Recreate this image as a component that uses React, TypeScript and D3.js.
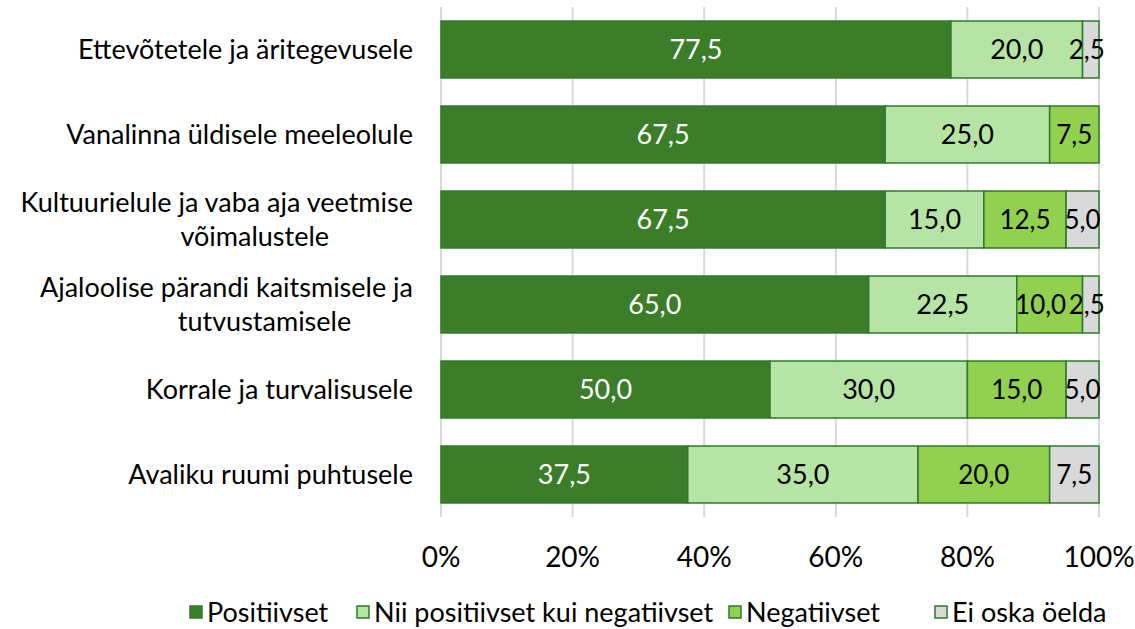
import { useEffect, useRef } from 'react'
import * as d3 from 'd3'

const categories = [
  ['Ettevõtetele ja äritegevusele'],
  ['Vanalinna üldisele meeleolule'],
  ['Kultuurielule ja vaba aja veetmise', 'võimalustele'],
  ['Ajaloolise pärandi kaitsmisele ja', 'tutvustamisele'],
  ['Korrale ja turvalisusele'],
  ['Avaliku ruumi puhtusele'],
]
const seriesNames = ['Positiivset', 'Nii positiivset kui negatiivset', 'Negatiivset', 'Ei oska öelda']
const positiivset = [77.5, 67.5, 67.5, 65.0, 50.0, 37.5]
const mixed = [20.0, 25.0, 15.0, 22.5, 30.0, 35.0]
const negatiivset = [0, 7.5, 12.5, 10.0, 15.0, 20.0]
const eiOska = [2.5, 0, 5.0, 2.5, 5.0, 7.5]
const ticks = [0, 20, 40, 60, 80, 100]

const colors = ['#3b7d28', '#b5e4a5', '#92d050', '#d9d9d9']
const textColors = ['#ffffff', '#000000', '#000000', '#000000']
const FONT = 'Lato, "Open Sans", sans-serif'
const FS = 27

export default function App() {
  const ref = useRef<SVGSVGElement>(null)

  useEffect(() => {
    const svg = d3.select(ref.current)
    svg.selectAll('*').remove()
    const x = d3.scaleLinear().domain([0, 100]).range([441, 1099])
    const y = d3.scaleBand().domain(categories.map((_, i) => String(i))).range([7, 517]).paddingInner(0.33).paddingOuter(0.165)

    const series = [positiivset, mixed, negatiivset, eiOska]
    const rows = categories.map((_, i) => {
      const r: any = { i }
      series.forEach((s, k) => (r[k] = s[i]))
      return r
    })
    const stacked = d3.stack<any>().keys(['0', '1', '2', '3'])(rows)

    // gridlines
    svg
      .append('g')
      .selectAll('line')
      .data(ticks)
      .enter()
      .append('line')
      .attr('x1', d => x(d))
      .attr('x2', d => x(d))
      .attr('y1', 7)
      .attr('y2', 517)
      .attr('stroke', '#d9d9d9')
      .attr('stroke-width', 2)

    // bars
    stacked.forEach((layer, k) => {
      const g = svg.append('g')
      const segs = layer.filter(d => d[1] - d[0] > 0)
      g.selectAll('rect')
        .data(segs)
        .enter()
        .append('rect')
        .attr('x', d => x(d[0]))
        .attr('width', d => x(d[1]) - x(d[0]))
        .attr('y', d => y(String(d.data.i))!)
        .attr('height', y.bandwidth())
        .attr('fill', colors[k])
        .attr('stroke', '#2e7a2a')
        .attr('stroke-width', 1.5)
      // nudge labels apart where a neighbouring segment is very thin
      const nudge = (d: any) => {
        const i = d.data.i
        if (k === 3 && eiOska[i] < 3) return -4
        if (k === 2 && eiOska[i] > 0 && eiOska[i] < 3) return -9
        return 0
      }
      g.selectAll('text')
        .data(segs)
        .enter()
        .append('text')
        .attr('x', d => (x(d[0]) + x(d[1])) / 2 + nudge(d))
        .attr('y', d => y(String(d.data.i))! + y.bandwidth() / 2)
        .attr('dy', '0.36em')
        .attr('text-anchor', 'middle')
        .attr('font-family', FONT)
        .attr('font-size', k > 1 ? 26 : FS)
        .attr('fill', textColors[k])
        .text(d => (d[1] - d[0]).toFixed(1).replace('.', ','))
    })

    // category labels
    categories.forEach((lines, i) => {
      const cy = y(String(i))! + y.bandwidth() / 2
      if (lines.length === 1) {
        svg.append('text').attr('x', 413).attr('y', cy).attr('dy', '0.36em')
          .attr('text-anchor', 'end').attr('font-family', FONT).attr('font-size', FS).attr('fill', '#000')
          .text(lines[0])
      } else {
        const t1 = svg.append('text').attr('x', 413).attr('y', cy - 17).attr('dy', '0.36em')
          .attr('text-anchor', 'end').attr('font-family', FONT).attr('font-size', FS).attr('fill', '#000')
          .text(lines[0])
        const w = (t1.node() as SVGTextElement).getComputedTextLength()
        svg.append('text').attr('x', 413 - w / 2 + 38).attr('y', cy + 17).attr('dy', '0.36em')
          .attr('text-anchor', 'middle').attr('font-family', FONT).attr('font-size', FS).attr('fill', '#000')
          .text(lines[1])
      }
    })

    // x axis labels
    svg
      .append('g')
      .selectAll('text')
      .data(ticks)
      .enter()
      .append('text')
      .attr('x', d => x(d))
      .attr('y', 557)
      .attr('dy', '0.36em')
      .attr('text-anchor', 'middle')
      .attr('font-family', FONT)
      .attr('font-size', 28)
      .text(d => `${d}%`)

    // legend
    const legendX = [190, 357, 729, 935]
    seriesNames.forEach((name, k) => {
      svg.append('rect').attr('x', legendX[k]).attr('y', 606).attr('width', 12).attr('height', 12)
        .attr('fill', colors[k]).attr('stroke', '#2e7a2a').attr('stroke-width', 1.5)
      svg.append('text').attr('x', legendX[k] + 17).attr('y', 612).attr('dy', '0.36em')
        .attr('font-family', FONT).attr('font-size', 27).attr('fill', '#000').text(name)
    })
  }, [])

  return <svg ref={ref} width={1135} height={629} style={{ position: 'absolute', left: 0, top: 0, background: '#fff' }} />
}
